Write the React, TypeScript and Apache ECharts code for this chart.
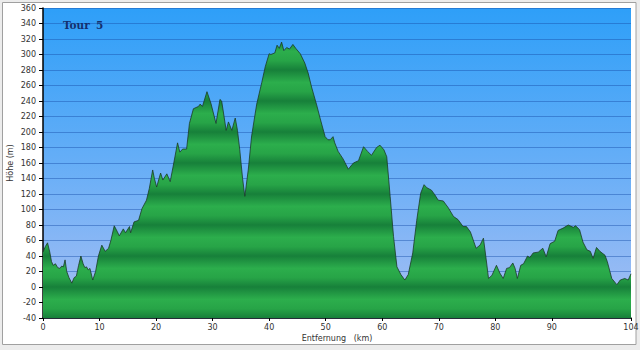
import React, { useEffect, useRef } from "react";
import * as echarts from "echarts";

const distances = [
  0, 0.4, 0.8, 1.2, 1.5, 1.8, 2.2, 2.6, 3.0, 3.3, 3.6, 3.9, 4.2, 4.6, 5.1, 5.5, 5.9, 6.3, 6.7, 7.1,
  7.4, 7.7, 8.0, 8.3, 8.8, 9.3, 9.8, 10.4, 11.0, 11.6, 12.0, 12.6, 13.1, 13.5, 14.2, 14.6, 15.3, 15.5, 16.1, 16.9,
  17.5, 18.3, 18.8, 19.4, 19.7, 20.1, 20.8, 21.2, 21.9, 22.5, 23.0, 23.8, 24.2, 24.7, 25.4, 25.9, 26.6, 27.5, 27.8, 28.2,
  29.0, 29.7, 30.6, 31.3, 31.6, 32.4, 32.8, 33.4, 34.0, 34.4, 34.8, 35.3, 35.7, 36.3, 36.9, 37.8, 38.7, 39.3, 40.0, 40.3,
  41.0, 41.4, 41.8, 42.2, 42.6, 43.1, 43.6, 44.2, 44.7, 45.5, 46.3, 46.9, 47.5, 48.4, 49.0, 49.9, 50.4, 50.8, 51.3, 51.6,
  52.2, 53.1, 54.0, 54.9, 55.8, 56.7, 57.4, 58.1, 59.0, 59.6, 60.3, 60.8, 61.4, 62.0, 62.6, 63.3, 64.0, 64.6, 65.4, 66.1,
  66.8, 67.4, 67.9, 68.7, 69.3, 69.9, 70.8, 71.7, 72.6, 73.4, 74.3, 74.9, 75.6, 76.6, 77.3, 77.9, 78.4, 78.8, 79.4, 80.2,
  80.8, 81.4, 82.0, 82.5, 83.1, 83.5, 83.9, 84.5, 85.0, 85.7, 86.1, 86.7, 87.6, 88.4, 89.0, 89.7, 90.5, 91.1, 92.0, 92.9,
  93.8, 94.2, 94.9, 95.5, 96.2, 96.8, 97.3, 97.9, 98.5, 99.4, 99.8, 100.6, 101.5, 102.1, 102.9, 103.5, 104.0,
];

const heights = [
  45, 52, 57, 45, 33, 28, 30, 25, 24, 27, 26, 35, 20, 12, 5, 12, 14, 28, 40, 30,
  25, 26, 22, 24, 9, 20, 40, 54, 46, 50, 60, 79, 72, 66, 75, 70, 78, 70, 84, 86,
  101, 112, 127, 151, 140, 129, 147, 138, 146, 136, 155, 186, 174, 178, 178, 211, 230, 233, 236, 233,
  252, 237, 211, 242, 240, 202, 213, 202, 218, 202, 177, 140, 117, 151, 195, 236, 264, 284, 301, 300,
  302, 312, 308, 316, 305, 309, 307, 313, 308, 301, 289, 276, 258, 235, 218, 194, 190, 190, 194, 186,
  175, 165, 152, 160, 163, 181, 175, 170, 180, 183, 177, 168, 117, 65, 26, 16, 9, 16, 44, 86,
  121, 132, 128, 125, 119, 112, 111, 102, 91, 87, 78, 78, 71, 50, 54, 63, 35, 11, 15, 28,
  18, 11, 24, 25, 31, 24, 11, 28, 30, 40, 38, 44, 45, 50, 39, 56, 59, 73, 76, 80,
  77, 79, 74, 58, 48, 46, 37, 51, 46, 41, 33, 11, 3, 9, 11, 9, 17,
];

const xTicks = [0, 10, 20, 30, 40, 50, 60, 70, 80, 90, 104];
const yMin = -40;
const yMax = 360;
const yStep = 20;
const title = "Tour";
const titleNum = "5";
const xName = "Entfernung   (km)";
const yName = "Höhe (m)";

export default function App() {
  const ref = useRef<HTMLDivElement>(null);

  useEffect(() => {
    document.body.style.margin = "0";
    const chart = echarts.init(ref.current!, null, { renderer: "svg" });

    const top = 8;
    const bottom = 318;
    const stops: { offset: number; color: string }[] = [];
    const bands = (yMax - yMin) / 40;
    for (let k = 0; k <= bands; k++) {
      stops.push({ offset: k / bands, color: "#17803a" });
      if (k < bands) {
        stops.push({ offset: (k + 0.3) / bands, color: "#27a447" });
        stops.push({ offset: (k + 0.6) / bands, color: "#2cae4c" });
      }
    }
    const greenFill = new echarts.graphic.LinearGradient(0, bottom, 0, top, stops, true);

    const bg = new echarts.graphic.LinearGradient(0, 0, 0, 1, [
      { offset: 0, color: "#2e9ff8" },
      { offset: 0.5, color: "#66aef7" },
      { offset: 1, color: "#a8bff3" },
    ]);

    chart.setOption({
      animation: false,
      backgroundColor: "#ececec",
      graphic: [
        {
          type: "rect",
          z: -10,
          silent: true,
          shape: { x: 2.5, y: 2.5, width: 633.5, height: 342 },
          style: { fill: "#ffffff", stroke: "#a0a0a0", lineWidth: 1 },
        },
        {
          type: "text",
          left: 63,
          top: 19,
          z: 10,
          style: { text: title, font: "bold 10.5px 'DejaVu Serif'", fill: "#14306e" },
        },
        {
          type: "text",
          left: 96,
          top: 19,
          z: 10,
          style: { text: titleNum, font: "bold 10.5px 'DejaVu Serif'", fill: "#14306e" },
        },
      ],
      grid: {
        left: 43,
        right: 9,
        top: 8,
        bottom: 32,
        containLabel: false,
        outerBoundsMode: "none",
        show: true,
        backgroundColor: bg,
        borderWidth: 0,
      },
      xAxis: {
        type: "value",
        min: 0,
        max: 104,
        name: xName,
        nameLocation: "middle",
        nameGap: 16,
        nameMoveOverlap: false,
        nameTextStyle: { fontFamily: "DejaVu Sans", fontSize: 8, color: "#333" },
        axisLine: { show: true, onZero: false, lineStyle: { color: "#000", width: 1.5 } },
        axisTick: { show: true, length: 3, customValues: xTicks, lineStyle: { color: "#000" } },
        axisLabel: {
          customValues: xTicks,
          fontFamily: "DejaVu Sans",
          fontSize: 8,
          color: "#333",
          margin: 5,
        },
        splitLine: { show: false },
      },
      yAxis: {
        type: "value",
        min: yMin,
        max: yMax,
        interval: yStep,
        name: yName,
        nameLocation: "middle",
        nameGap: 29,
        nameMoveOverlap: false,
        nameTextStyle: { fontFamily: "DejaVu Sans", fontSize: 8, color: "#333" },
        axisLine: { show: true, lineStyle: { color: "#000", width: 1.5 } },
        axisTick: { show: true, length: 4, lineStyle: { color: "#000" } },
        axisLabel: { fontFamily: "DejaVu Sans", fontSize: 8, color: "#333", margin: 7 },
        splitLine: { show: true, lineStyle: { color: "rgba(25,80,170,0.45)", width: 1 } },
      },
      series: [
        {
          type: "line",
          data: distances.map((d, i) => [d, heights[i]]),
          showSymbol: false,
          smooth: false,
          lineStyle: { color: "#1c3b26", width: 0.8 },
          areaStyle: { color: greenFill, opacity: 1, origin: "start" },
        },
      ],
    });

    return () => chart.dispose();
  }, []);

  return <div ref={ref} style={{ width: 640, height: 350 }} />;
}
